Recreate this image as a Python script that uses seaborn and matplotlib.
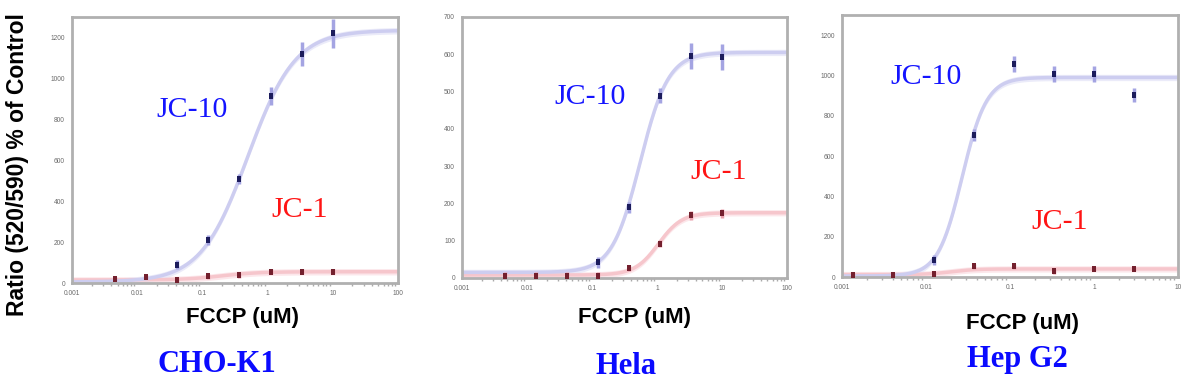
import numpy as np
import pandas as pd
import matplotlib
matplotlib.use("Agg")
import matplotlib.pyplot as plt
import seaborn as sns

# ---------------- data ----------------
panel_names = ["CHO-K1", "Hela", "Hep G2"]

# CHO-K1
cho_jc10_x = [0.041, 0.123, 0.37, 1.11, 3.33, 10]
cho_jc10_y = [90, 210, 510, 915, 1120, 1220]
cho_jc10_err = [20, 25, 25, 45, 60, 70]
cho_jc1_x = [0.0046, 0.0137, 0.041, 0.123, 0.37, 1.11, 3.33, 10]
cho_jc1_y = [21, 30, 16, 33, 38, 54, 54, 54]
cho_jc1_err = [10, 10, 10, 12, 12, 12, 12, 12]

# Hela
hela_jc10_x = [0.123, 0.37, 1.11, 3.33, 10]
hela_jc10_y = [42, 190, 489, 596, 592]
hela_jc10_err = [15, 15, 20, 35, 35]
hela_jc1_x = [0.0046, 0.0137, 0.041, 0.123, 0.37, 1.11, 3.33, 10]
hela_jc1_y = [6, 6, 6, 6, 28, 92, 168, 173]
hela_jc1_err = [10, 10, 10, 10, 8, 10, 12, 12]

# Hep G2
hep_jc10_x = [0.0123, 0.037, 0.111, 0.333, 1.0, 3.0]
hep_jc10_y = [86, 706, 1058, 1008, 1008, 904]
hep_jc10_err = [25, 30, 40, 40, 40, 35]
hep_jc1_x = [0.00137, 0.0041, 0.0123, 0.037, 0.111, 0.333, 1.0, 3.0]
hep_jc1_y = [10, 10, 17, 53, 53, 28, 40, 40]
hep_jc1_err = [10, 10, 10, 12, 12, 12, 12, 12]

# fitted dose-response curves: bottom, top, EC50, hill
cho_jc10_fit = [5, 1235, 0.5, 1.2]
cho_jc1_fit = [15, 55, 0.2, 1.5]
hela_jc10_fit = [15, 605, 0.55, 2.0]
hela_jc1_fit = [8, 175, 1.05, 2.4]
hep_jc10_fit = [5, 990, 0.027, 3.0]
hep_jc1_fit = [12, 40, 0.02, 3.0]

x_ticks_a = [0.001, 0.01, 0.1, 1, 10, 100]
x_labels_a = ["0.001", "0.01", "0.1", "1", "10", "100"]
x_ticks_b = [0.001, 0.01, 0.1, 1, 10]
x_labels_b = ["0.001", "0.01", "0.1", "1", "10"]
y_ticks_a = [0, 200, 400, 600, 800, 1000, 1200]
y_ticks_b = [0, 100, 200, 300, 400, 500, 600, 700]

# ---------------- style ----------------
sns.set_style("white")
plt.rcParams["font.family"] = ["Liberation Sans", "DejaVu Sans"]

W, H = 1199, 392
fig = plt.figure(figsize=(W / 100, H / 100), dpi=100)


def px_axes(left, top, right, bottom):
    return fig.add_axes([left / W, 1 - bottom / H, (right - left) / W, (bottom - top) / H])


def fit_curve(params, xmin, xmax):
    b, t, ec, h = params
    xs = np.logspace(np.log10(xmin), np.log10(xmax), 300)
    ys = b + (t - b) / (1 + (ec / xs) ** h)
    return pd.DataFrame({"x": xs, "y": ys})


BLUE_LINE = "#cdcdf0"
BLUE_PT = "#1c1c5c"
BLUE_ERR = "#a4a4e2"
RED_LINE = "#f6c6cc"
RED_PT = "#74202e"
RED_ERR = "#eaa2ae"
RECT = [(-0.6, -1), (0.6, -1), (0.6, 1), (-0.6, 1)]

panels = [
    dict(box=(72, 17, 398, 283), xlim=(0.001, 100), ylim=(0, 1300), xt=x_ticks_a, xl=x_labels_a, yt=y_ticks_a,
         b_x=cho_jc10_x, b_y=cho_jc10_y, b_e=cho_jc10_err, r_x=cho_jc1_x, r_y=cho_jc1_y, r_e=cho_jc1_err,
         b_fit=cho_jc10_fit, r_fit=cho_jc1_fit),
    dict(box=(462, 17, 787, 278), xlim=(0.001, 100), ylim=(0, 700), xt=x_ticks_a, xl=x_labels_a, yt=y_ticks_b,
         b_x=hela_jc10_x, b_y=hela_jc10_y, b_e=hela_jc10_err, r_x=hela_jc1_x, r_y=hela_jc1_y, r_e=hela_jc1_err,
         b_fit=hela_jc10_fit, r_fit=hela_jc1_fit),
    dict(box=(842, 15, 1178, 277), xlim=(0.001, 10), ylim=(0, 1300), xt=x_ticks_b, xl=x_labels_b, yt=y_ticks_a,
         b_x=hep_jc10_x, b_y=hep_jc10_y, b_e=hep_jc10_err, r_x=hep_jc1_x, r_y=hep_jc1_y, r_e=hep_jc1_err,
         b_fit=hep_jc10_fit, r_fit=hep_jc1_fit),
]

for p in panels:
    ax = px_axes(*p["box"])
    ax.set_xscale("log")
    span = p["ylim"][1]
    # curves with soft bands
    for fit, col, band in [(p["r_fit"], RED_LINE, "#fce2e6"), (p["b_fit"], BLUE_LINE, "#e6e6f8")]:
        df = fit_curve(fit, p["xlim"][0], p["xlim"][1])
        w = span * 0.012
        ax.fill_between(df["x"], df["y"] - w, df["y"] + w, color=band, alpha=0.8, lw=0, zorder=1)
        sns.lineplot(data=df, x="x", y="y", ax=ax, color=col, lw=2.5, zorder=2)
    # error bars + points
    ax.errorbar(p["r_x"], p["r_y"], yerr=p["r_e"], fmt="none", ecolor=RED_ERR, elinewidth=2.5, capsize=0, zorder=3)
    ax.errorbar(p["b_x"], p["b_y"], yerr=p["b_e"], fmt="none", ecolor=BLUE_ERR, elinewidth=2.5, capsize=0, zorder=3)
    sns.scatterplot(x=p["r_x"], y=p["r_y"], ax=ax, color=RED_PT, marker=RECT, s=24, linewidth=0, zorder=4)
    sns.scatterplot(x=p["b_x"], y=p["b_y"], ax=ax, color=BLUE_PT, marker=RECT, s=24, linewidth=0, zorder=4)

    ax.set_xlim(*p["xlim"])
    ax.set_ylim(*p["ylim"])
    ax.set_xticks(p["xt"])
    ax.set_xticklabels(p["xl"])
    ax.set_yticks(p["yt"])
    ax.set_yticklabels([str(v) for v in p["yt"]])
    ax.set_xlabel("")
    ax.set_ylabel("")
    ax.tick_params(axis="both", which="major", labelsize=4.8, labelcolor="#6a6a6a", colors="#999999",
                   direction="out", length=3, width=1, pad=2)
    ax.tick_params(axis="x", which="minor", direction="out", length=2.5, width=1, colors="#aaaaaa", bottom=True)
    for s in ax.spines.values():
        s.set_color("#b0b0b0")
        s.set_linewidth(2)


def ftext(x, y, s, **kw):
    fig.text(x / W, 1 - y / H, s, ha="center", va="center", **kw)


# x labels
for (x, y) in [(242, 318), (635, 318), (1022, 323)]:
    ftext(x, y, "FCCP (uM)", fontsize=16, fontweight="bold", color="black")

# y label
ftext(18, 165, "Ratio (520/590) % of Control", fontsize=16.5, fontweight="bold", color="black", rotation=90)

# panel titles
for (x, y), name in zip([(217, 364), (626, 366), (1017, 360)], panel_names):
    ftext(x, y, name, fontsize=22, fontweight="bold", color="#0a0aff", family=["Liberation Serif"])

# series labels inside plots
for (x, y) in [(192, 110), (590, 97), (926, 77)]:
    ftext(x, y, "JC-10", fontsize=21.5, color="#1414ff", family=["Liberation Serif"])
for (x, y) in [(300, 210), (719, 172), (1060, 222)]:
    ftext(x, y, "JC-1", fontsize=21.5, color="#ff1414", family=["Liberation Serif"])

fig.savefig("out.png", dpi=100)
